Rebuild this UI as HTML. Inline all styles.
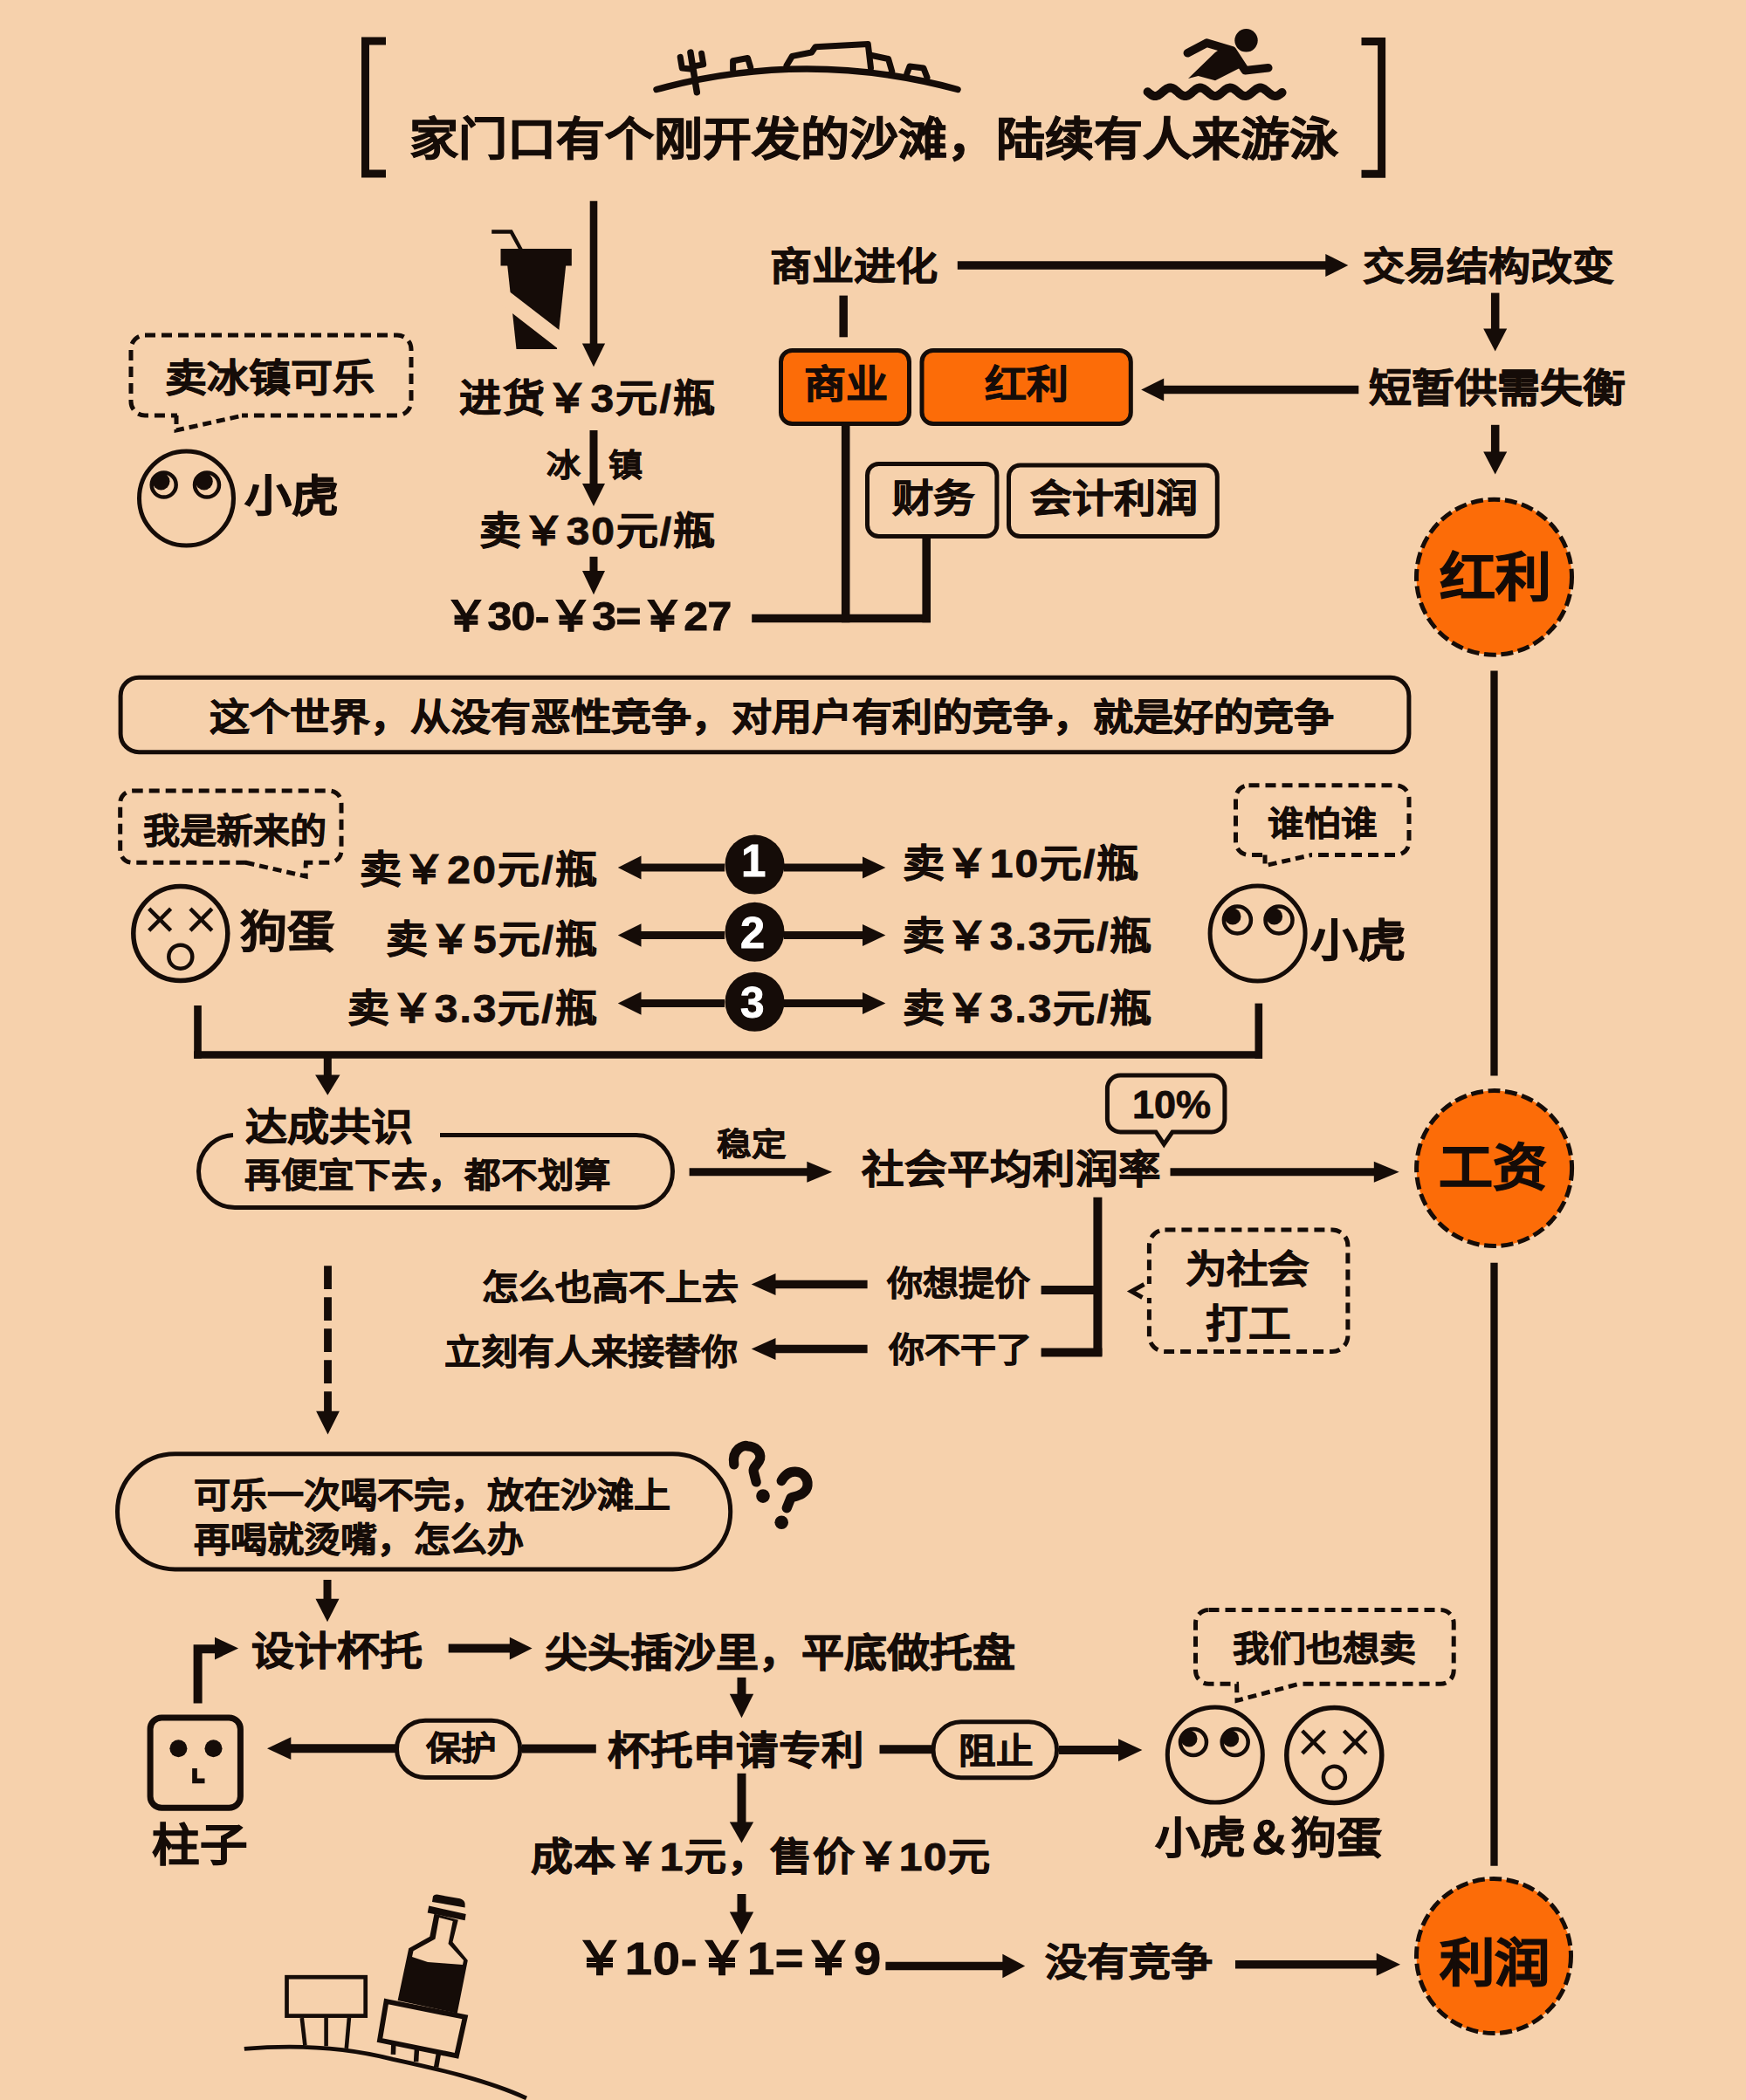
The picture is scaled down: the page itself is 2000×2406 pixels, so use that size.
<!DOCTYPE html>
<html lang="zh-CN">
<head>
<meta charset="utf-8">
<style>
html,body{margin:0;padding:0;}
body{width:2000px;height:2406px;background:#f6d1ac;position:relative;overflow:hidden;font-family:"Liberation Sans",sans-serif;}
svg{position:absolute;left:0;top:0;}
.t{position:absolute;transform-origin:0 0;white-space:nowrap;font-weight:bold;line-height:1;-webkit-text-stroke-width:0.018em;}
</style>
</head>
<body>
<svg width="2000" height="2406" viewBox="0 0 2000 2406" stroke="#150c08" fill="none"><path d="M442,47.1 H418.5 V198.9 H442" fill="none" stroke-width="9" stroke-linecap="butt" stroke-linejoin="miter"/>
<path d="M1559.5,47.4 H1582.6 V199.3 H1559.5" fill="none" stroke-width="9" stroke-linecap="butt" stroke-linejoin="miter"/>
<path d="M752,102.5 Q924,55.5 1097,102.5" fill="none" stroke-width="7.5" stroke-linecap="round" stroke-linejoin="miter"/>
<path d="M790.9,60.1 L798.3,105.7" fill="none" stroke-width="7.5" stroke-linecap="round" stroke-linejoin="miter"/>
<path d="M779.2,65.4 L781.3,78.1 L793,79.2" fill="none" stroke-width="7" stroke-linecap="round" stroke-linejoin="round"/>
<path d="M803.6,61.2 L805.7,73.9 L794,76" fill="none" stroke-width="7" stroke-linecap="round" stroke-linejoin="round"/>
<path d="M839.6,80 V69.7 L856.5,66.5 L859.7,77" fill="none" stroke-width="7" stroke-linecap="round" stroke-linejoin="round"/>
<path d="M901,75 L907.4,64.4 L929.7,60 L934,53.8 L994.3,50.6 L997.5,78" fill="none" stroke-width="7" stroke-linecap="round" stroke-linejoin="round"/>
<path d="M997.5,63.3 L1017.6,67.5 L1021.8,82" fill="none" stroke-width="7" stroke-linecap="round" stroke-linejoin="round"/>
<path d="M1038.8,84.4 L1042,76 L1057.9,78 L1062,88.7" fill="none" stroke-width="7" stroke-linecap="round" stroke-linejoin="round"/>
<circle cx="1427.5" cy="46.3" r="13.2" fill="#150c08" stroke="none"/>
<path d="M1360.4,60.7 L1382.2,49.2 L1411.4,57.8 L1426.3,80.7 L1452.7,77.8" fill="none" stroke-width="9.7" stroke-linecap="round" stroke-linejoin="round"/>
<polygon fill="#150c08" stroke="none" points="1392.0,60.1 1361.0,89.9 1372.5,87.0 1392.0,92.2 1421.0,77.5 1411.4,57.8 1400.0,54.5"/>
<path d="M1314.6,105.3 L1316.6,107.0 L1318.6,108.5 L1320.6,109.6 L1322.6,110.1 L1324.6,109.9 L1326.6,109.2 L1328.6,107.9 L1330.6,106.3 L1332.6,104.6 L1334.6,103.0 L1336.6,101.6 L1338.6,100.8 L1340.6,100.5 L1342.6,100.9 L1344.6,101.8 L1346.6,103.3 L1348.6,104.9 L1350.6,106.7 L1352.6,108.2 L1354.6,109.4 L1356.6,110.0 L1358.6,110.0 L1360.6,109.4 L1362.6,108.2 L1364.6,106.7 L1366.6,104.9 L1368.6,103.3 L1370.6,101.8 L1372.6,100.9 L1374.6,100.5 L1376.6,100.8 L1378.6,101.6 L1380.6,103.0 L1382.6,104.6 L1384.6,106.3 L1386.6,107.9 L1388.6,109.2 L1390.6,109.9 L1392.6,110.1 L1394.6,109.6 L1396.6,108.5 L1398.6,107.0 L1400.6,105.3 L1402.6,103.6 L1404.6,102.1 L1406.6,101.0 L1408.6,100.5 L1410.6,100.7 L1412.6,101.4 L1414.6,102.7 L1416.6,104.3 L1418.6,106.0 L1420.6,107.6 L1422.6,109.0 L1424.6,109.8 L1426.6,110.1 L1428.6,109.7 L1430.6,108.8 L1432.6,107.3 L1434.6,105.7 L1436.6,103.9 L1438.6,102.4 L1440.6,101.2 L1442.6,100.6 L1444.6,100.6 L1446.6,101.2 L1448.6,102.4 L1450.6,103.9 L1452.6,105.7 L1454.6,107.3 L1456.6,108.8 L1458.6,109.7 L1460.6,110.1 L1462.6,109.8 L1464.6,109.0 L1466.6,107.6 L1468.6,106.0" fill="none" stroke-width="10" stroke-linecap="round" stroke-linejoin="round"/>
<rect x="573.5" y="285" width="81.3" height="19.5" fill="#150c08" stroke="none"/>
<polygon fill="#150c08" stroke="none" points="581.2,304.0 648.2,304.0 638.0,400.0 591.5,400.0"/>
<polygon fill="#f6d1ac" stroke="none" points="575.0,327.4 655.0,389.3 655.0,411.7 575.0,349.7"/>
<path d="M563.2,265.5 L585.5,265.5 L596.7,286" fill="none" stroke-width="4.3" stroke-linecap="butt" stroke-linejoin="miter"/>
<line x1="680" y1="230.3" x2="680" y2="395.5" stroke-width="8.6" stroke-linecap="butt"/>
<polygon fill="#150c08" stroke="none" points="680.0,420.2 666.9,393.5 693.1,393.5"/>
<line x1="680" y1="493" x2="680" y2="556" stroke-width="9" stroke-linecap="butt"/>
<polygon fill="#150c08" stroke="none" points="680.0,580.0 667.0,554.0 693.0,554.0"/>
<line x1="680" y1="637.8" x2="680" y2="656.0" stroke-width="9" stroke-linecap="butt"/>
<polygon fill="#150c08" stroke="none" points="680.0,681.3 667.0,654.0 693.0,654.0"/>
<line x1="1096.8" y1="304" x2="1520.3" y2="304" stroke-width="9.5" stroke-linecap="butt"/>
<polygon fill="#150c08" stroke="none" points="1544.3,304.0 1518.3,291.0 1518.3,317.0"/>
<line x1="966.2" y1="338.6" x2="966.2" y2="386.3" stroke-width="9.5" stroke-linecap="butt"/>
<line x1="1712.7" y1="335.6" x2="1712.7" y2="378.6" stroke-width="9.5" stroke-linecap="butt"/>
<polygon fill="#150c08" stroke="none" points="1712.7,402.6 1699.2,376.6 1726.2,376.6"/>
<line x1="1556.3" y1="446.5" x2="1331.2" y2="446.5" stroke-width="9.5" stroke-linecap="butt"/>
<polygon fill="#150c08" stroke="none" points="1307.2,446.5 1333.2,433.5 1333.2,459.5"/>
<line x1="1712.7" y1="486.8" x2="1712.7" y2="519.5" stroke-width="9.5" stroke-linecap="butt"/>
<polygon fill="#150c08" stroke="none" points="1712.7,543.5 1699.2,517.5 1726.2,517.5"/>
<rect x="894.5" y="401.5" width="147.0" height="84.0" rx="13" fill="#fc6c08" stroke-width="5"/>
<rect x="1056" y="401.5" width="239.29999999999995" height="84.0" rx="13" fill="#fc6c08" stroke-width="5"/>
<line x1="968.7" y1="488" x2="968.7" y2="713.3" stroke-width="9.6" stroke-linecap="butt"/>
<line x1="861.2" y1="708.5" x2="1065.8" y2="708.5" stroke-width="9.6" stroke-linecap="butt"/>
<line x1="1061.2" y1="617" x2="1061.2" y2="713.3" stroke-width="9.6" stroke-linecap="butt"/>
<rect x="993.5" y="531.4" width="148.4000000000001" height="83.10000000000002" rx="13" fill="none" stroke-width="5"/>
<rect x="1155.5" y="533" width="238.79999999999995" height="81.5" rx="13" fill="none" stroke-width="5"/>
<line x1="1711.5" y1="768.6" x2="1711.5" y2="1232.4" stroke-width="8.3" stroke-linecap="butt"/>
<line x1="1711.5" y1="1446.8" x2="1711.5" y2="2137.8" stroke-width="8.3" stroke-linecap="butt"/>
<circle cx="1711.5" cy="661.2" r="89" fill="#fc6c08" stroke-width="5" stroke-dasharray="14 5.6"/>
<circle cx="1711.6" cy="1338.6" r="89" fill="#fc6c08" stroke-width="5" stroke-dasharray="14 5.6"/>
<circle cx="1711" cy="2241" r="88.5" fill="#fc6c08" stroke-width="5" stroke-dasharray="14 5.6"/>
<circle cx="213.5" cy="571" r="54" fill="none" stroke-width="5"/>
<circle cx="187.7" cy="555.6" r="14" fill="none" stroke-width="4.5"/>
<circle cx="184.5" cy="551.5" r="10" fill="#150c08" stroke="none"/>
<circle cx="237" cy="555.6" r="14" fill="none" stroke-width="4.5"/>
<circle cx="233.8" cy="551.5" r="10" fill="#150c08" stroke="none"/>
<circle cx="206.8" cy="1069.6" r="54" fill="none" stroke-width="5.5"/>
<line x1="170.7" y1="1041.2" x2="195.6" y2="1066.1" stroke-width="4.5" stroke-linecap="butt"/>
<line x1="170.7" y1="1066.1" x2="195.6" y2="1041.2" stroke-width="4.5" stroke-linecap="butt"/>
<line x1="218" y1="1041.2" x2="242.8" y2="1066.1" stroke-width="4.5" stroke-linecap="butt"/>
<line x1="218" y1="1066.1" x2="242.8" y2="1041.2" stroke-width="4.5" stroke-linecap="butt"/>
<circle cx="206.8" cy="1096.2" r="13.5" fill="none" stroke-width="4.5"/>
<circle cx="1440.6" cy="1069.4" r="54.5" fill="none" stroke-width="5"/>
<circle cx="1417.4" cy="1054" r="15.5" fill="none" stroke-width="4.5"/>
<circle cx="1412" cy="1050" r="9.5" fill="#150c08" stroke="none"/>
<circle cx="1465" cy="1054" r="15.5" fill="none" stroke-width="4.5"/>
<circle cx="1459.6" cy="1050" r="9.5" fill="#150c08" stroke="none"/>
<circle cx="1391.8" cy="2010.6" r="54.5" fill="none" stroke-width="5"/>
<circle cx="1367" cy="1996" r="15" fill="none" stroke-width="4.5"/>
<circle cx="1362" cy="1992" r="9.5" fill="#150c08" stroke="none"/>
<circle cx="1414.7" cy="1996" r="15" fill="none" stroke-width="4.5"/>
<circle cx="1409.7" cy="1992" r="9.5" fill="#150c08" stroke="none"/>
<circle cx="1528.3" cy="2011" r="54.5" fill="none" stroke-width="5.5"/>
<line x1="1491.7" y1="1983" x2="1517.4" y2="2008.8" stroke-width="4.5" stroke-linecap="butt"/>
<line x1="1491.7" y1="2008.8" x2="1517.4" y2="1983" stroke-width="4.5" stroke-linecap="butt"/>
<line x1="1539.4" y1="1983" x2="1565" y2="2008.8" stroke-width="4.5" stroke-linecap="butt"/>
<line x1="1539.4" y1="2008.8" x2="1565" y2="1983" stroke-width="4.5" stroke-linecap="butt"/>
<circle cx="1528.4" cy="2036.3" r="12.5" fill="none" stroke-width="4.5"/>
<rect x="150" y="384" width="321" height="92" rx="16" fill="none" stroke-width="5" stroke-dasharray="12 7"/>
<rect x="203" y="472" width="74" height="8" fill="#f6d1ac" stroke="none"/>
<path d="M202,476 L202,493 L278.5,476" fill="none" stroke-width="5" stroke-linecap="butt" stroke-linejoin="miter" stroke-dasharray="10 6"/>
<rect x="137.7" y="906" width="253.3" height="82.29999999999995" rx="14" fill="none" stroke-width="5" stroke-dasharray="12 7"/>
<rect x="282" y="984" width="66" height="8" fill="#f6d1ac" stroke="none"/>
<path d="M281.5,988.3 L350.2,1004 L350.2,988.3" fill="none" stroke-width="5" stroke-linecap="butt" stroke-linejoin="miter" stroke-dasharray="10 6"/>
<rect x="1415.5" y="899.8" width="198.5" height="79.70000000000005" rx="15" fill="none" stroke-width="5" stroke-dasharray="12 7"/>
<rect x="1451" y="975" width="50" height="8" fill="#f6d1ac" stroke="none"/>
<path d="M1449,979.5 L1449,991.7 L1502.5,979.5" fill="none" stroke-width="5" stroke-linecap="butt" stroke-linejoin="miter" stroke-dasharray="10 6"/>
<rect x="1369.5" y="1844.5" width="295.70000000000005" height="84.79999999999995" rx="15" fill="none" stroke-width="5" stroke-dasharray="12 7"/>
<rect x="1419" y="1925" width="67" height="8" fill="#f6d1ac" stroke="none"/>
<path d="M1416.6,1929.3 L1417,1948.3 L1488,1929.3" fill="none" stroke-width="5" stroke-linecap="butt" stroke-linejoin="miter" stroke-dasharray="10 6"/>
<rect x="1316.4" y="1409" width="227.5" height="139.5" rx="18" fill="none" stroke-width="5" stroke-dasharray="12 7"/>
<rect x="1312" y="1471" width="9" height="16" fill="#f6d1ac" stroke="none"/>
<path d="M1310.5,1471.5 L1296,1479.5 L1308.5,1486.5" fill="none" stroke-width="5" stroke-linecap="butt" stroke-linejoin="miter"/>
<rect x="138.1" y="776.2" width="1475.8000000000002" height="85.5" rx="21" fill="none" stroke-width="5"/>
<line x1="830" y1="994" x2="732.5" y2="994" stroke-width="9" stroke-linecap="butt"/>
<polygon fill="#150c08" stroke="none" points="707.8,994.0 734.5,980.6 734.5,1007.4"/>
<line x1="898" y1="994" x2="990.0" y2="994" stroke-width="9" stroke-linecap="butt"/>
<polygon fill="#150c08" stroke="none" points="1014.4,994.0 988.0,981.5 988.0,1006.5"/>
<circle cx="864.5" cy="990.6" r="34" fill="#150c08" stroke="none"/>
<line x1="830" y1="1071.5" x2="732.5" y2="1071.5" stroke-width="9" stroke-linecap="butt"/>
<polygon fill="#150c08" stroke="none" points="707.8,1071.5 734.5,1058.2 734.5,1084.8"/>
<line x1="898" y1="1071.5" x2="990.0" y2="1071.5" stroke-width="9" stroke-linecap="butt"/>
<polygon fill="#150c08" stroke="none" points="1014.4,1071.5 988.0,1059.0 988.0,1084.0"/>
<circle cx="864.5" cy="1067.8" r="34" fill="#150c08" stroke="none"/>
<line x1="830" y1="1149.5" x2="732.5" y2="1149.5" stroke-width="9" stroke-linecap="butt"/>
<polygon fill="#150c08" stroke="none" points="707.8,1149.5 734.5,1136.2 734.5,1162.8"/>
<line x1="898" y1="1149.5" x2="990.0" y2="1149.5" stroke-width="9" stroke-linecap="butt"/>
<polygon fill="#150c08" stroke="none" points="1014.4,1149.5 988.0,1137.0 988.0,1162.0"/>
<circle cx="864.5" cy="1147.8" r="34" fill="#150c08" stroke="none"/>
<line x1="226.5" y1="1152" x2="226.5" y2="1212.8" stroke-width="8.6" stroke-linecap="butt"/>
<line x1="222.2" y1="1208.5" x2="1445.8" y2="1208.5" stroke-width="8.6" stroke-linecap="butt"/>
<line x1="1441.8" y1="1149.6" x2="1441.8" y2="1212.9" stroke-width="8.6" stroke-linecap="butt"/>
<line x1="375.3" y1="1210" x2="375.3" y2="1233.6" stroke-width="9" stroke-linecap="butt"/>
<polygon fill="#150c08" stroke="none" points="375.3,1254.8 361.1,1231.6 389.5,1231.6"/>
<path d="M504,1300.5 H729 A41.5,41.5 0 0 1 770.5,1342 A41.5,41.5 0 0 1 729,1383.5 H269 A41.5,41.5 0 0 1 227.5,1342 A41.5,41.5 0 0 1 267,1300.5" fill="none" stroke-width="5" stroke-linecap="butt" stroke-linejoin="miter"/>
<line x1="789.6" y1="1342.7" x2="926.3000000000001" y2="1342.7" stroke-width="9" stroke-linecap="butt"/>
<polygon fill="#150c08" stroke="none" points="953.2,1342.7 924.3,1330.7 924.3,1354.7"/>
<line x1="1340.5" y1="1342.7" x2="1575.8" y2="1342.7" stroke-width="9" stroke-linecap="butt"/>
<polygon fill="#150c08" stroke="none" points="1602.7,1342.7 1573.8,1330.7 1573.8,1354.7"/>
<path d="M1283.4,1232.1 H1387.9 A15,15 0 0 1 1402.9,1247.1 V1281.9 A15,15 0 0 1 1387.9,1296.9 H1343 L1333.3,1311 L1324,1296.9 H1283.4 A15,15 0 0 1 1268.4,1281.9 V1247.1 A15,15 0 0 1 1283.4,1232.1 Z" fill="none" stroke-width="5" stroke-linecap="butt" stroke-linejoin="miter"/>
<line x1="1257.4" y1="1371.7" x2="1257.4" y2="1553.4" stroke-width="10" stroke-linecap="butt"/>
<line x1="1192.6" y1="1478" x2="1262" y2="1478" stroke-width="10" stroke-linecap="butt"/>
<line x1="1192.6" y1="1549.4" x2="1262.4" y2="1549.4" stroke-width="10" stroke-linecap="butt"/>
<line x1="993.6" y1="1471.5" x2="886.5" y2="1471.5" stroke-width="9.5" stroke-linecap="butt"/>
<polygon fill="#150c08" stroke="none" points="860.7,1471.5 888.5,1459.0 888.5,1484.0"/>
<line x1="993.6" y1="1545.4" x2="886.5" y2="1545.4" stroke-width="9.5" stroke-linecap="butt"/>
<polygon fill="#150c08" stroke="none" points="860.7,1545.4 888.5,1532.9 888.5,1557.9"/>
<line x1="375.5" y1="1450.3" x2="375.5" y2="1618" stroke-width="8.8" stroke-dasharray="26.8 9.2"/>
<polygon fill="#150c08" stroke="none" points="375.5,1643.6 362.1,1616.7 388.9,1616.7"/>
<rect x="134.5" y="1665.8" width="702.2" height="132.10000000000014" rx="66" fill="none" stroke-width="5"/>
<path d="M840.8,1678 C838,1660 852,1655 856,1656.8 C866,1657 872,1664 870.6,1671.3 C869,1678 862,1680 863.2,1686 L866.2,1698" fill="none" stroke-width="11.2" stroke-linecap="round" stroke-linejoin="round"/>
<circle cx="874" cy="1714.1" r="7.8" fill="#150c08" stroke="none"/>
<path d="M895.2,1696.6 C900,1688 906,1686.2 910.5,1686.2 C920,1686 926,1694 925,1702 C924,1712 912,1714 906,1716 L901.2,1727.9" fill="none" stroke-width="11.2" stroke-linecap="round" stroke-linejoin="round"/>
<circle cx="895.2" cy="1744.2" r="7.8" fill="#150c08" stroke="none"/>
<line x1="375" y1="1810" x2="375" y2="1833.7" stroke-width="9" stroke-linecap="butt"/>
<polygon fill="#150c08" stroke="none" points="375.0,1858.2 361.5,1831.7 388.5,1831.7"/>
<path d="M226.6,1951.6 V1889.3 H248" fill="none" stroke-width="10" stroke-linecap="butt" stroke-linejoin="miter"/>
<polygon fill="#150c08" stroke="none" points="273.1,1888.6 246.0,1875.8 246.0,1901.4"/>
<line x1="513.7" y1="1888.6" x2="585.8000000000001" y2="1888.6" stroke-width="10" stroke-linecap="butt"/>
<polygon fill="#150c08" stroke="none" points="609.6,1888.6 583.8,1875.8 583.8,1901.4"/>
<line x1="849.5" y1="1921.9" x2="849.5" y2="1942.8" stroke-width="10" stroke-linecap="butt"/>
<polygon fill="#150c08" stroke="none" points="849.5,1968.2 835.8,1940.8 863.2,1940.8"/>
<rect x="172.1" y="1968" width="103.29999999999998" height="103.30000000000018" rx="13" fill="none" stroke-width="7"/>
<circle cx="204.4" cy="2003.2" r="10" fill="#150c08" stroke="none"/>
<circle cx="244.5" cy="2003.2" r="10" fill="#150c08" stroke="none"/>
<path d="M223,2026 V2040.4 H234.5" fill="none" stroke-width="5.7" stroke-linecap="butt" stroke-linejoin="miter"/>
<line x1="454" y1="2003.2" x2="331.3" y2="2003.2" stroke-width="10" stroke-linecap="butt"/>
<polygon fill="#150c08" stroke="none" points="306.0,2003.2 333.3,1990.3 333.3,2016.1"/>
<rect x="454.5" y="1971.3" width="141.20000000000005" height="65.20000000000005" rx="32.6" fill="none" stroke-width="5"/>
<line x1="598" y1="2003.5" x2="682.8" y2="2003.5" stroke-width="10" stroke-linecap="butt"/>
<line x1="1007.5" y1="2004.3" x2="1068" y2="2004.3" stroke-width="10" stroke-linecap="butt"/>
<rect x="1069" y="1972.8" width="141.5999999999999" height="63.90000000000009" rx="32" fill="none" stroke-width="5"/>
<line x1="1213" y1="2005.1" x2="1283.0" y2="2005.1" stroke-width="10" stroke-linecap="butt"/>
<polygon fill="#150c08" stroke="none" points="1308.4,2005.1 1281.0,1992.2 1281.0,2017.9"/>
<line x1="849.5" y1="2031.8" x2="849.5" y2="2089.5" stroke-width="10" stroke-linecap="butt"/>
<polygon fill="#150c08" stroke="none" points="849.5,2111.5 835.8,2087.5 863.2,2087.5"/>
<line x1="849.5" y1="2170" x2="849.5" y2="2192.6" stroke-width="10" stroke-linecap="butt"/>
<polygon fill="#150c08" stroke="none" points="849.5,2216.4 835.8,2190.6 863.2,2190.6"/>
<line x1="1014.4" y1="2252.4" x2="1150.4" y2="2252.4" stroke-width="9.5" stroke-linecap="butt"/>
<polygon fill="#150c08" stroke="none" points="1174.2,2252.4 1148.4,2238.7 1148.4,2266.2"/>
<line x1="1415" y1="2250.7" x2="1578.7" y2="2250.7" stroke-width="9.5" stroke-linecap="butt"/>
<polygon fill="#150c08" stroke="none" points="1604.0,2250.7 1576.7,2237.7 1576.7,2263.7"/>
<path d="M279.8,2347.4 C330,2343 390,2344 450,2359.3 C500,2370 560,2384 603,2404" fill="none" stroke-width="4.8" stroke-linecap="butt" stroke-linejoin="miter"/>
<rect x="328.5" y="2265.2" width="90.2" height="44.4" fill="none" stroke-width="4.7"/>
<line x1="345.8" y1="2311.9" x2="349.4" y2="2343.3" stroke-width="4.6" stroke-linecap="butt"/>
<line x1="373.6" y1="2311.9" x2="373.6" y2="2344.3" stroke-width="4.6" stroke-linecap="butt"/>
<line x1="399.9" y1="2311.9" x2="396.8" y2="2346.9" stroke-width="4.6" stroke-linecap="butt"/>
<polygon fill="#150c08" stroke="none" points="497.5,2192.5 492.3,2218.7 468.2,2232.3 455.6,2292.0 523.7,2306.7 535.8,2245.9 518.5,2225.0 524.8,2199.8"/>
<polygon fill="#f6d1ac" stroke="none" points="503.0,2197.0 498.5,2221.5 473.5,2235.3 472.0,2242.0 490.0,2248.0 510.0,2249.5 530.0,2251.0 531.0,2246.0 513.5,2227.0 518.7,2201.0"/>
<path d="M496,2172.5 Q498,2170 502,2170.8 L527,2175.3 Q532,2177 532.6,2181 L532.6,2185.5 L495,2179 Z" fill="#150c08" stroke-width="0" stroke-linecap="butt" stroke-linejoin="miter"/>
<polygon fill="#150c08" stroke="none" points="491.3,2183.6 533.7,2193.0 532.6,2200.3 489.7,2191.4"/>
<path d="M442.5,2293 L532.8,2311 L523,2355.3 L435,2337.5 Z" fill="#f6d1ac" stroke-width="5.8" stroke-linecap="butt" stroke-linejoin="miter"/>
<line x1="450.9" y1="2340" x2="450.4" y2="2353.9" stroke-width="5.5" stroke-linecap="butt"/>
<line x1="477.6" y1="2345" x2="476.6" y2="2362.2" stroke-width="5.5" stroke-linecap="butt"/>
<line x1="502.8" y1="2350.5" x2="499.6" y2="2368.5" stroke-width="5.5" stroke-linecap="butt"/></svg>
<div class="t" style="left:469.0px;top:134.4px;font-size:56.0px;color:#150c08;transform:scaleY(0.935)">家门口有个刚开发的沙滩，陆续有人来游泳</div>
<div class="t" style="left:189.0px;top:412.2px;font-size:48.0px;color:#150c08;transform:scaleY(0.935)">卖冰镇可乐</div>
<div class="t" style="left:280.0px;top:543.4px;font-size:54.0px;color:#150c08;transform:scaleY(0.935)">小虎</div>
<div class="t" style="left:526.0px;top:435.2px;font-size:48.0px;color:#150c08;letter-spacing:2.17px;transform:scaleY(0.935)">进货￥3元/瓶</div>
<div class="t" style="left:626.0px;top:515.0px;font-size:39.0px;color:#150c08;transform:scaleY(0.935)">冰</div>
<div class="t" style="left:697.0px;top:515.0px;font-size:39.0px;color:#150c08;transform:scaleY(0.935)">镇</div>
<div class="t" style="left:549.0px;top:587.2px;font-size:48.0px;color:#150c08;letter-spacing:1.87px;transform:scaleY(0.935)">卖￥30元/瓶</div>
<div class="t" style="left:509.0px;top:683.0px;font-size:50.0px;color:#150c08;letter-spacing:-0.62px;transform:scaleY(0.935)">￥30-￥3=￥27</div>
<div class="t" style="left:882.0px;top:284.2px;font-size:48.0px;color:#150c08;transform:scaleY(0.935)">商业进化</div>
<div class="t" style="left:921.0px;top:419.2px;font-size:48.0px;color:#150c08;transform:scaleY(0.935)">商业</div>
<div class="t" style="left:1128.0px;top:419.2px;font-size:48.0px;color:#150c08;transform:scaleY(0.935)">红利</div>
<div class="t" style="left:1561.0px;top:284.2px;font-size:48.0px;color:#150c08;transform:scaleY(0.935)">交易结构改变</div>
<div class="t" style="left:1568.0px;top:423.2px;font-size:49.0px;color:#150c08;transform:scaleY(0.935)">短暂供需失衡</div>
<div class="t" style="left:1022.0px;top:550.2px;font-size:47.5px;color:#150c08;transform:scaleY(0.935)">财务</div>
<div class="t" style="left:1180.0px;top:550.2px;font-size:48.0px;color:#150c08;transform:scaleY(0.935)">会计利润</div>
<div class="t" style="left:1649.0px;top:632.6px;font-size:64.0px;color:#150c08;transform:scaleY(0.935)">红利</div>
<div class="t" style="left:240.0px;top:801.4px;font-size:46.0px;color:#150c08;transform:scaleY(0.935)">这个世界，从没有恶性竞争，对用户有利的竞争，就是好的竞争</div>
<div class="t" style="left:164.0px;top:932.8px;font-size:42.0px;color:#150c08;transform:scaleY(0.935)">我是新来的</div>
<div class="t" style="left:1452.0px;top:924.0px;font-size:41.5px;color:#150c08;transform:scaleY(0.935)">谁怕谁</div>
<div class="t" style="left:275.0px;top:1042.4px;font-size:54.0px;color:#150c08;transform:scaleY(0.935)">狗蛋</div>
<div class="t" style="left:1501.0px;top:1054.4px;font-size:54.5px;color:#150c08;transform:scaleY(0.935)">小虎</div>
<div class="t" style="left:412.0px;top:975.2px;font-size:48.0px;color:#150c08;letter-spacing:2.17px;transform:scaleY(0.935)">卖￥20元/瓶</div>
<div class="t" style="left:442.0px;top:1055.2px;font-size:48.0px;color:#150c08;letter-spacing:2.04px;transform:scaleY(0.935)">卖￥5元/瓶</div>
<div class="t" style="left:398.0px;top:1134.2px;font-size:48.0px;color:#150c08;letter-spacing:1.92px;transform:scaleY(0.935)">卖￥3.3元/瓶</div>
<div class="t" style="left:1034.0px;top:968.2px;font-size:48.0px;color:#150c08;letter-spacing:1.91px;transform:scaleY(0.935)">卖￥10元/瓶</div>
<div class="t" style="left:1034.0px;top:1051.2px;font-size:48.0px;color:#150c08;letter-spacing:1.9px;transform:scaleY(0.935)">卖￥3.3元/瓶</div>
<div class="t" style="left:1034.0px;top:1134.2px;font-size:48.0px;color:#150c08;letter-spacing:1.9px;transform:scaleY(0.935)">卖￥3.3元/瓶</div>
<div class="t" style="left:849.0px;top:961.0px;font-size:51.0px;color:#ffffff">1</div>
<div class="t" style="left:848.0px;top:1044.0px;font-size:50.5px;color:#ffffff">2</div>
<div class="t" style="left:848.0px;top:1124.0px;font-size:49.5px;color:#ffffff">3</div>
<div class="t" style="left:281.0px;top:1270.2px;font-size:48.0px;color:#150c08;transform:scaleY(0.935)">达成共识</div>
<div class="t" style="left:280.0px;top:1326.8px;font-size:41.5px;color:#150c08;transform:scaleY(0.935)">再便宜下去，都不划算</div>
<div class="t" style="left:821.0px;top:1293.0px;font-size:39.5px;color:#150c08;transform:scaleY(0.935)">稳定</div>
<div class="t" style="left:987.0px;top:1318.2px;font-size:48.5px;color:#150c08;transform:scaleY(0.935)">社会平均利润率</div>
<div class="t" style="left:1297.0px;top:1242.6px;font-size:45.0px;color:#150c08">10%</div>
<div class="t" style="left:1648.0px;top:1308.6px;font-size:62.0px;color:#150c08;transform:scaleY(0.935)">工资</div>
<div class="t" style="left:552.0px;top:1455.8px;font-size:42.0px;color:#150c08;transform:scaleY(0.935)">怎么也高不上去</div>
<div class="t" style="left:509.0px;top:1529.8px;font-size:42.0px;color:#150c08;transform:scaleY(0.935)">立刻有人来接替你</div>
<div class="t" style="left:1016.0px;top:1451.6px;font-size:41.0px;color:#150c08;transform:scaleY(0.935)">你想提价</div>
<div class="t" style="left:1018.0px;top:1527.6px;font-size:41.0px;color:#150c08;transform:scaleY(0.935)">你不干了</div>
<div class="t" style="left:1358.0px;top:1433.2px;font-size:47.5px;color:#150c08;transform:scaleY(0.935)">为社会</div>
<div class="t" style="left:1381.0px;top:1495.2px;font-size:48.5px;color:#150c08;transform:scaleY(0.935)">打工</div>
<div class="t" style="left:222.0px;top:1693.8px;font-size:42.0px;color:#150c08;transform:scaleY(0.935)">可乐一次喝不完，放在沙滩上</div>
<div class="t" style="left:222.0px;top:1744.8px;font-size:42.0px;color:#150c08;transform:scaleY(0.935)">再喝就烫嘴，怎么办</div>
<div class="t" style="left:288.0px;top:1870.2px;font-size:49.0px;color:#150c08;transform:scaleY(0.935)">设计杯托</div>
<div class="t" style="left:624.0px;top:1872.2px;font-size:49.0px;color:#150c08;transform:scaleY(0.935)">尖头插沙里，平底做托盘</div>
<div class="t" style="left:488.0px;top:1983.6px;font-size:40.5px;color:#150c08;transform:scaleY(0.935)">保护</div>
<div class="t" style="left:696.0px;top:1984.2px;font-size:48.5px;color:#150c08;transform:scaleY(0.935)">杯托申请专利</div>
<div class="t" style="left:1098.0px;top:1986.6px;font-size:42.5px;color:#150c08;transform:scaleY(0.935)">阻止</div>
<div class="t" style="left:1412.0px;top:1869.8px;font-size:42.0px;color:#150c08;transform:scaleY(0.935)">我们也想卖</div>
<div class="t" style="left:1323.0px;top:2082.4px;font-size:52.0px;color:#150c08;transform:scaleY(0.935)">小虎＆狗蛋</div>
<div class="t" style="left:174.0px;top:2090.4px;font-size:54.5px;color:#150c08;transform:scaleY(0.935)">柱子</div>
<div class="t" style="left:608.0px;top:2106.2px;font-size:48.0px;color:#150c08;letter-spacing:1.24px;transform:scaleY(0.935)">成本￥1元，售价￥10元</div>
<div class="t" style="left:659.0px;top:2218.2px;font-size:56.0px;color:#150c08;letter-spacing:0.79px;transform:scaleY(0.935)">￥10-￥1=￥9</div>
<div class="t" style="left:1197.0px;top:2227.2px;font-size:48.0px;color:#150c08;transform:scaleY(0.935)">没有竞争</div>
<div class="t" style="left:1649.0px;top:2219.6px;font-size:63.5px;color:#150c08;transform:scaleY(0.935)">利润</div>
</body>
</html>
